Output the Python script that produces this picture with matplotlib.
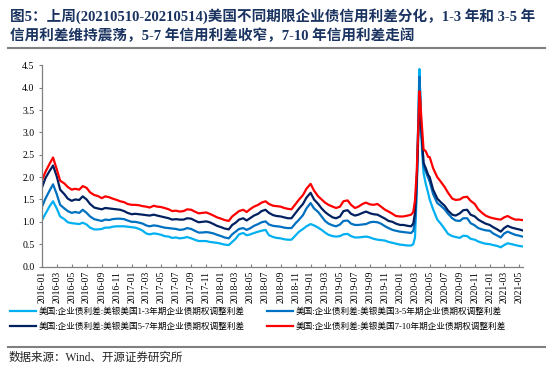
import matplotlib
matplotlib.use("Agg")
import matplotlib.pyplot as plt
import matplotlib.dates as mdates
import pandas as pd

# 字体：拉丁字符用 Times 风格，中文回退到 Noto Sans CJK
FONTS = ['Liberation Serif', 'Noto Sans CJK SC']
plt.rcParams['font.family'] = FONTS
plt.rcParams['axes.unicode_minus'] = False

# 日期（半月一个点，2020年3-4月加密）
dates = [
    '2016-01-01', '2016-01-15', '2016-02-01', '2016-02-15', '2016-03-01', '2016-03-15',
    '2016-04-01', '2016-04-15', '2016-05-01', '2016-05-15', '2016-06-01', '2016-06-15',
    '2016-07-01', '2016-07-15', '2016-08-01', '2016-08-15', '2016-09-01', '2016-09-15',
    '2016-10-01', '2016-10-15', '2016-11-01', '2016-11-15', '2016-12-01', '2016-12-15',
    '2017-01-01', '2017-01-15', '2017-02-01', '2017-02-15', '2017-03-01', '2017-03-15',
    '2017-04-01', '2017-04-15', '2017-05-01', '2017-05-15', '2017-06-01', '2017-06-15',
    '2017-07-01', '2017-07-15', '2017-08-01', '2017-08-15', '2017-09-01', '2017-09-15',
    '2017-10-01', '2017-10-15', '2017-11-01', '2017-11-15', '2017-12-01', '2017-12-15',
    '2018-01-01', '2018-01-15', '2018-02-01', '2018-02-15', '2018-03-01', '2018-03-15',
    '2018-04-01', '2018-04-15', '2018-05-01', '2018-05-15', '2018-06-01', '2018-06-15',
    '2018-07-01', '2018-07-15', '2018-08-01', '2018-08-15', '2018-09-01', '2018-09-15',
    '2018-10-01', '2018-10-15', '2018-11-01', '2018-11-15', '2018-12-01', '2018-12-15',
    '2019-01-01', '2019-01-15', '2019-02-01', '2019-02-15', '2019-03-01', '2019-03-15',
    '2019-04-01', '2019-04-15', '2019-05-01', '2019-05-15', '2019-06-01', '2019-06-15',
    '2019-07-01', '2019-07-15', '2019-08-01', '2019-08-15', '2019-09-01', '2019-09-15',
    '2019-10-01', '2019-10-15', '2019-11-01', '2019-11-15', '2019-12-01', '2019-12-15',
    '2020-01-01', '2020-01-15', '2020-02-01', '2020-02-15', '2020-02-24',
    '2020-03-02', '2020-03-09', '2020-03-16', '2020-03-20', '2020-03-24', '2020-03-27',
    '2020-04-01', '2020-04-06', '2020-04-15', '2020-04-25',
    '2020-05-01', '2020-05-15', '2020-06-01', '2020-06-15',
    '2020-07-01', '2020-07-15', '2020-08-01', '2020-08-15', '2020-09-01', '2020-09-15',
    '2020-10-01', '2020-10-15', '2020-11-01', '2020-11-15', '2020-12-01', '2020-12-15',
    '2021-01-01', '2021-01-15', '2021-02-01', '2021-02-15', '2021-03-01', '2021-03-15',
    '2021-04-01', '2021-04-15', '2021-05-01', '2021-05-14',
]

# 1-3年
oas_1_3 = [
    1.04, 1.18, 1.35, 1.46, 1.30, 1.12, 1.06, 0.99, 0.97, 0.96, 0.95, 0.98,
    0.94, 0.87, 0.83, 0.83, 0.84, 0.87, 0.87, 0.89, 0.90, 0.90, 0.90, 0.89,
    0.88, 0.87, 0.84, 0.80, 0.74, 0.72, 0.74, 0.73, 0.71, 0.68, 0.67, 0.64,
    0.65, 0.63, 0.64, 0.66, 0.63, 0.60, 0.57, 0.57, 0.57, 0.55, 0.54, 0.53,
    0.51, 0.49, 0.48, 0.55, 0.62, 0.72, 0.75, 0.70, 0.72, 0.75, 0.78, 0.80,
    0.82, 0.70, 0.66, 0.64, 0.63, 0.61, 0.60, 0.60, 0.70, 0.78, 0.84, 0.90,
    0.95, 0.92, 0.87, 0.82, 0.76, 0.71, 0.68, 0.67, 0.68, 0.72, 0.73, 0.68,
    0.65, 0.65, 0.66, 0.67, 0.65, 0.62, 0.60, 0.59, 0.58, 0.55, 0.53, 0.51,
    0.49, 0.48, 0.47, 0.47, 0.50,
    0.65, 1.60, 3.40, 4.42, 3.70, 3.00,
    2.50, 2.09, 1.85, 1.64,
    1.50, 1.28, 1.05, 0.96,
    0.84, 0.73, 0.68, 0.66, 0.64, 0.69,
    0.68, 0.62, 0.60, 0.56, 0.53, 0.51,
    0.50, 0.48, 0.46, 0.43, 0.48, 0.52,
    0.50, 0.48, 0.46, 0.45,
]

# 3-5年
oas_3_5 = [
    1.34, 1.52, 1.70, 1.84, 1.62, 1.38, 1.30, 1.24, 1.20, 1.22, 1.20, 1.27,
    1.20, 1.12, 1.06, 1.04, 1.02, 1.05, 1.04, 1.06, 1.07, 1.07, 1.06, 1.03,
    1.00, 1.00, 0.98, 0.96, 0.92, 0.90, 0.92, 0.91, 0.89, 0.87, 0.86, 0.85,
    0.84, 0.82, 0.83, 0.86, 0.84, 0.80, 0.76, 0.76, 0.77, 0.76, 0.74, 0.71,
    0.68, 0.65, 0.63, 0.72, 0.78, 0.84, 0.86, 0.82, 0.86, 0.91, 0.95, 0.99,
    1.01, 0.94, 0.91, 0.90, 0.89, 0.87, 0.86, 0.86, 0.97, 1.05, 1.15, 1.30,
    1.42, 1.30, 1.22, 1.12, 1.02, 0.96, 0.92, 0.90, 0.94, 1.02, 1.03, 0.96,
    0.93, 0.93, 0.94, 0.95, 0.99, 1.00, 0.99, 0.96, 0.90, 0.86, 0.82, 0.80,
    0.78, 0.77, 0.76, 0.75, 0.80,
    1.00, 1.80, 3.30, 4.25, 3.80, 3.20,
    2.70, 2.24, 2.12, 1.98,
    1.90, 1.62, 1.42, 1.36,
    1.28, 1.18, 1.08, 1.03, 1.02, 1.08,
    1.08, 0.97, 0.92, 0.86, 0.83, 0.81,
    0.80, 0.74, 0.69, 0.65, 0.74, 0.78,
    0.74, 0.71, 0.69, 0.67,
]

# 5-7年
oas_5_7 = [
    1.77, 1.98, 2.14, 2.26, 2.02, 1.72, 1.62, 1.52, 1.47, 1.50, 1.49, 1.57,
    1.50, 1.40, 1.32, 1.30, 1.28, 1.31, 1.30, 1.29, 1.28, 1.27, 1.24, 1.20,
    1.17, 1.18, 1.17, 1.16, 1.15, 1.14, 1.16, 1.14, 1.12, 1.10, 1.08, 1.05,
    1.06, 1.05, 1.05, 1.08, 1.07, 1.03, 0.99, 1.00, 1.01, 0.99, 0.95, 0.91,
    0.88, 0.85, 0.83, 0.93, 0.98, 1.05, 1.08, 1.03, 1.09, 1.14, 1.18, 1.24,
    1.27, 1.20, 1.15, 1.13, 1.12, 1.10, 1.08, 1.08, 1.20, 1.30, 1.40, 1.54,
    1.65, 1.50, 1.40, 1.30, 1.22, 1.16, 1.10, 1.08, 1.12, 1.24, 1.26, 1.18,
    1.14, 1.16, 1.20, 1.23, 1.19, 1.17, 1.16, 1.12, 1.07, 1.02, 1.00, 0.96,
    0.93, 0.93, 0.91, 0.90, 0.96,
    1.20, 1.90, 3.00, 3.55, 3.40, 3.15,
    2.75, 2.32, 2.20, 2.05,
    2.00, 1.72, 1.52, 1.44,
    1.36, 1.25, 1.16, 1.14, 1.19, 1.26,
    1.27, 1.16, 1.12, 1.05, 1.00, 0.96,
    0.93, 0.88, 0.83, 0.78, 0.86, 0.91,
    0.87, 0.85, 0.83, 0.81,
]

# 7-10年
oas_7_10 = [
    1.93, 2.12, 2.30, 2.44, 2.18, 1.92, 1.86, 1.78, 1.72, 1.74, 1.72, 1.80,
    1.76, 1.66, 1.60, 1.58, 1.53, 1.57, 1.55, 1.52, 1.49, 1.46, 1.44, 1.40,
    1.38, 1.38, 1.37, 1.35, 1.34, 1.32, 1.36, 1.34, 1.33, 1.31, 1.28, 1.24,
    1.25, 1.23, 1.24, 1.28, 1.27, 1.23, 1.19, 1.20, 1.21, 1.18, 1.14, 1.10,
    1.07, 1.04, 1.02, 1.12, 1.18, 1.24, 1.27, 1.22, 1.29, 1.34, 1.38, 1.43,
    1.46, 1.40, 1.36, 1.35, 1.34, 1.31, 1.29, 1.28, 1.40, 1.50, 1.60, 1.74,
    1.85, 1.70, 1.57, 1.50, 1.43, 1.38, 1.34, 1.31, 1.34, 1.46, 1.48, 1.38,
    1.31, 1.34, 1.40, 1.43, 1.39, 1.38, 1.40, 1.34, 1.27, 1.23, 1.18, 1.13,
    1.12, 1.12, 1.14, 1.16, 1.22,
    1.48, 2.10, 3.20, 3.92, 3.70, 3.40,
    3.00, 2.62, 2.58, 2.45,
    2.45, 2.20, 2.00, 1.90,
    1.78, 1.65, 1.52, 1.49, 1.50, 1.55,
    1.56, 1.47, 1.40, 1.28, 1.20, 1.14,
    1.10, 1.08, 1.06, 1.05, 1.10, 1.13,
    1.08, 1.05, 1.05, 1.04,
]

labels = [
    '美国:企业债利差:美银美国1-3年期企业债期权调整利差',
    '美国:企业债利差:美银美国3-5年期企业债期权调整利差',
    '美国:企业债利差:美银美国5-7年期企业债期权调整利差',
    '美国:企业债利差:美银美国7-10年期企业债期权调整利差',
]
colors = ['#00B0F0', '#0070C0', '#002060', '#FF0000']

df = pd.DataFrame({
    'date': pd.to_datetime(dates),
    '1-3': oas_1_3, '3-5': oas_3_5, '5-7': oas_5_7, '7-10': oas_7_10,
})

fig = plt.figure(figsize=(5.5, 3.72), dpi=100)
ax = fig.add_axes([0.0764, 0.2836, 0.8746, 0.5404])

lines = []
for col, lab, c in zip(['1-3', '3-5', '5-7', '7-10'], labels, colors):
    ln, = ax.plot(df['date'], df[col], color=c, lw=1.6, label=lab)
    lines.append(ln)

ax.set_ylim(0, 4.5)
ax.set_xlim(pd.Timestamp('2016-01-01'), pd.Timestamp('2021-05-17'))
ax.set_yticks([i * 0.5 for i in range(10)])
ax.yaxis.set_major_formatter(plt.FormatStrFormatter('%.1f'))
ax.xaxis.set_major_locator(mdates.MonthLocator(bymonth=[1, 3, 5, 7, 9, 11]))
ax.xaxis.set_major_formatter(mdates.DateFormatter('%Y-%m'))
for t in ax.get_xticklabels():
    t.set_rotation(90)
ax.tick_params(axis='x', direction='in', length=2.5, labelsize=7, pad=3, color='#808080')
ax.tick_params(axis='y', direction='out', length=2.5, labelsize=7, pad=3, color='#808080')
for s in ['top', 'right']:
    ax.spines[s].set_visible(False)
for s in ['left', 'bottom']:
    ax.spines[s].set_color('#808080')
    ax.spines[s].set_linewidth(0.9)

# 图例：两行两列
order = [0, 2, 1, 3]
fig.legend([lines[i] for i in order], [labels[i] for i in order],
           loc='upper left', bbox_to_anchor=(0.018, 0.172), ncol=2, frameon=False,
           fontsize=6.2, handlelength=3.0, handletextpad=0.3, columnspacing=2.6,
           labelspacing=0.75, borderaxespad=0, borderpad=0)

# 标题
title_color = '#1a3360'
fig.text(0.018, 0.957,
         '图5：上周(20210510-20210514)美国不同期限企业债信用利差分化，1-3 年和 3-5 年',
         fontsize=10.5, fontweight='bold', color=title_color, va='center', ha='left')
fig.text(0.018, 0.905,
         '信用利差维持震荡，5-7 年信用利差收窄，7-10 年信用利差走阔',
         fontsize=10.5, fontweight='bold', color=title_color, va='center', ha='left')

# 分隔线
fig.add_artist(plt.Line2D([0.015, 0.99], [0.871, 0.871], color='#808080', lw=1.5))
fig.add_artist(plt.Line2D([0.015, 0.99], [0.067, 0.067], color='#808080', lw=1.5))

fig.text(0.015, 0.037, '数据来源：Wind、开源证券研究所', fontsize=8.3, color='#222222',
         va='center', ha='left')

fig.savefig('out.png', dpi=100)
